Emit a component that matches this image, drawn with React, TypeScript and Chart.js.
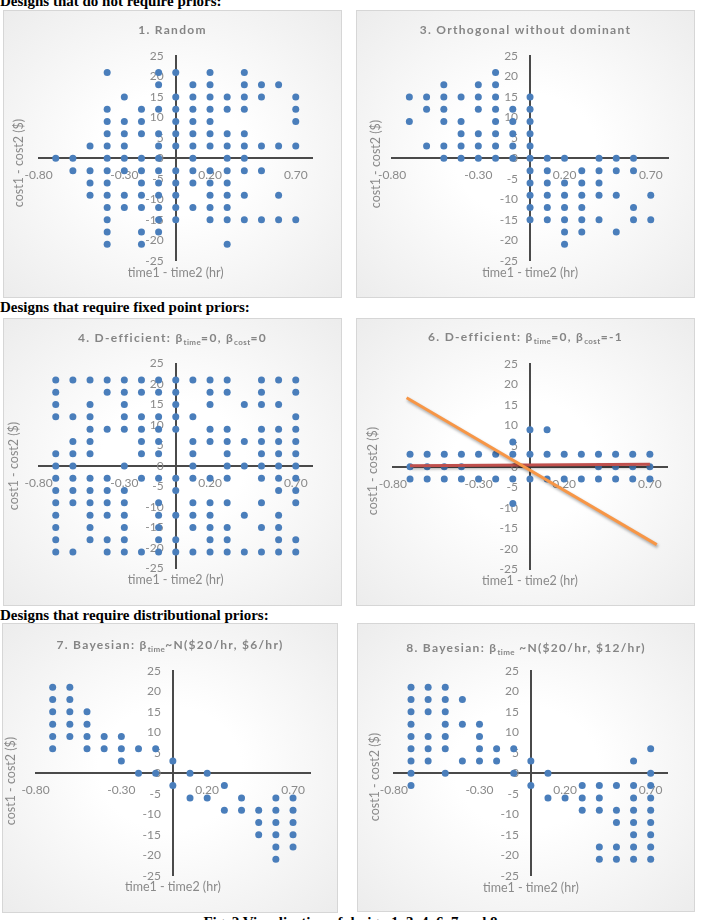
import React, { useEffect, useRef } from "react";
import { Chart, registerables } from "chart.js";

Chart.register(...registerables);

// ---------- shared axes ----------
const X_MIN = -0.8;
const X_MAX = 0.8;
const X_TICKS = [-0.8, -0.3, 0.2, 0.7];
const Y_MIN = -25;
const Y_MAX = 25;
const Y_STEP = 5;

const X_TITLE = "time1 - time2 (hr)";
const Y_TITLE = "cost1 - cost2 ($)";

// ---------- page text ----------
const SECTION_1 = "Designs that do not require priors:";
const SECTION_2 = "Designs that require fixed point priors:";
const SECTION_3 = "Designs that require distributional priors:";
const CAPTION = "Fig. 2 Visualization of design 1, 3, 4, 6, 7 and 8";

// ---------- chart titles: [text, isSubscript] ----------
type Seg = [string, boolean];
const TITLE_1: Seg[] = [["1. Random", false]];
const TITLE_3: Seg[] = [["3. Orthogonal without dominant", false]];
const TITLE_4: Seg[] = [["4. D-efficient: β", false], ["time", true], ["=0, β", false], ["cost", true], ["=0", false]];
const TITLE_6: Seg[] = [["6. D-efficient: β", false], ["time", true], ["=0, β", false], ["cost", true], ["=-1", false]];
const TITLE_7: Seg[] = [["7. Bayesian: β", false], ["time", true], ["~N($20/hr, $6/hr)", false]];
const TITLE_8: Seg[] = [["8. Bayesian: β", false], ["time", true], [" ~N($20/hr, $12/hr)", false]];

// ---------- design points: [cost1 - cost2, time1 - time2 values in that row] ----------
type Row = [number, number[]];

const DESIGN_1: Row[] = [
  [21, [-0.4, -0.1, 0, 0.2, 0.4]],
  [18, [-0.1, 0.1, 0.2, 0.4, 0.5, 0.6]],
  [15, [-0.3, 0, 0.1, 0.2, 0.3, 0.4, 0.5, 0.7]],
  [12, [-0.4, -0.2, -0.1, 0, 0.1, 0.2, 0.3, 0.4, 0.7]],
  [9, [-0.4, -0.3, -0.2, 0, 0.1, 0.2, 0.7]],
  [6, [-0.4, -0.3, -0.2, -0.1, 0, 0.1, 0.2, 0.3, 0.4]],
  [3, [-0.5, -0.4, -0.3, -0.1, 0, 0.1, 0.2, 0.3, 0.4, 0.5, 0.6, 0.7]],
  [0, [-0.7, -0.6, -0.4, -0.3, -0.2, -0.1, 0.1, 0.3, 0.4]],
  [-3, [-0.6, -0.5, -0.4, -0.3, -0.2, -0.1, 0, 0.1, 0.2, 0.3, 0.4, 0.5]],
  [-6, [-0.5, -0.4, -0.2, -0.1, 0, 0.1, 0.2, 0.3]],
  [-9, [-0.5, -0.4, -0.3, -0.2, -0.1, 0, 0.2, 0.3, 0.4, 0.6]],
  [-12, [-0.4, -0.3, -0.2, -0.1, 0, 0.1, 0.2, 0.3]],
  [-15, [-0.4, -0.1, 0, 0.2, 0.3, 0.4, 0.5, 0.6, 0.7]],
  [-18, [-0.4, -0.2, -0.1]],
  [-21, [-0.4, -0.2, 0.3]],
];

const DESIGN_3: Row[] = [
  [21, [-0.2]],
  [18, [-0.5, -0.3, -0.2]],
  [15, [-0.7, -0.6, -0.5, -0.4, -0.3, -0.2, 0]],
  [12, [-0.6, -0.5, -0.3, -0.2, -0.1, 0]],
  [9, [-0.7, -0.5, -0.4, -0.2, -0.1, 0]],
  [6, [-0.4, -0.3, -0.2, -0.1, 0]],
  [3, [-0.6, -0.5, -0.4, -0.3, -0.2, -0.1, 0]],
  [0, [-0.5, -0.4, -0.3, -0.2, -0.1, 0, 0.1, 0.2, 0.4, 0.5, 0.6]],
  [-3, [0, 0.1, 0.3, 0.4, 0.5, 0.6]],
  [-6, [0, 0.1, 0.2, 0.3, 0.4]],
  [-9, [0, 0.1, 0.2, 0.3, 0.4, 0.5, 0.7]],
  [-12, [0, 0.1, 0.2, 0.3, 0.6]],
  [-15, [0, 0.1, 0.2, 0.3, 0.4, 0.6, 0.7]],
  [-18, [0.2, 0.3, 0.5]],
  [-21, [0.2]],
];

const DESIGN_4: Row[] = [
  [21, [-0.7, -0.6, -0.5, -0.4, -0.3, -0.2, -0.1, 0, 0.1, 0.2, 0.3, 0.5, 0.6, 0.7]],
  [18, [-0.7, -0.4, -0.3, -0.2, -0.1, 0, 0.2, 0.3, 0.5, 0.7]],
  [15, [-0.7, -0.5, -0.3, 0, 0.2, 0.4, 0.5, 0.6]],
  [12, [-0.7, -0.6, -0.5, -0.3, -0.2, -0.1, 0, 0.1, 0.7]],
  [9, [-0.5, -0.4, -0.3, -0.2, -0.1, 0, 0.2, 0.3, 0.5, 0.6, 0.7]],
  [6, [-0.6, -0.5, -0.2, -0.1, 0.1, 0.2, 0.3, 0.4, 0.5, 0.6, 0.7]],
  [3, [-0.7, -0.6, -0.5, -0.2, -0.1, 0.1, 0.3, 0.5, 0.6, 0.7]],
  [0, [-0.7, -0.6, -0.3, 0.1, 0.3, 0.4, 0.5, 0.6, 0.7]],
  [-3, [-0.7, -0.6, -0.5, -0.4, -0.2, -0.1, 0, 0.1, 0.2, 0.3, 0.5, 0.6, 0.7]],
  [-6, [-0.7, -0.6, -0.5, -0.4, -0.3, 0, 0.6, 0.7]],
  [-9, [-0.7, -0.6, -0.5, -0.4, -0.3, -0.1, 0.1, 0.2, 0.3, 0.5, 0.7]],
  [-12, [-0.7, -0.5, -0.4, -0.3, -0.1, 0, 0.1, 0.2, 0.4, 0.6]],
  [-15, [-0.7, -0.5, -0.3, -0.1, 0.1, 0.2, 0.3, 0.5, 0.6]],
  [-18, [-0.7, -0.5, -0.4, -0.3, -0.1, 0, 0.2, 0.3, 0.6, 0.7]],
  [-21, [-0.7, -0.6, -0.4, -0.3, -0.2, -0.1, 0, 0.1, 0.2, 0.3, 0.4, 0.5, 0.6, 0.7]],
];

const DESIGN_6: Row[] = [
  [9, [0, 0.1]],
  [6, [-0.1]],
  [3, [-0.7, -0.6, -0.5, -0.4, -0.3, -0.2, -0.1, 0, 0.1, 0.2, 0.3, 0.4, 0.5, 0.6, 0.7]],
  [0, [-0.7, -0.6, -0.5, -0.4, 0.4, 0.5, 0.6, 0.7]],
  [-3, [-0.7, -0.6, -0.5, -0.4, -0.3, -0.2, -0.1, 0, 0.1, 0.2, 0.3, 0.4, 0.5, 0.6, 0.7]],
  [-9, [-0.1]],
];

// reference lines drawn over design 6
const DESIGN_6_STEEP: { x: number; y: number }[] = [
  { x: -0.72, y: 16.8 },
  { x: 0.74, y: -19 },
];
const DESIGN_6_FLAT: { x: number; y: number }[] = [
  { x: -0.7, y: 0.2 },
  { x: 0.7, y: 0.6 },
];

const DESIGN_7: Row[] = [
  [21, [-0.7, -0.6]],
  [18, [-0.7, -0.6]],
  [15, [-0.7, -0.6, -0.5]],
  [12, [-0.7, -0.6, -0.5]],
  [9, [-0.7, -0.6, -0.5, -0.4, -0.3]],
  [6, [-0.7, -0.5, -0.4, -0.3, -0.2, -0.1]],
  [3, [-0.3, 0]],
  [0, [-0.2, -0.1, 0.1, 0.2]],
  [-3, [0, 0.3]],
  [-6, [0.1, 0.2, 0.4, 0.6, 0.7]],
  [-9, [0.3, 0.4, 0.5, 0.6, 0.7]],
  [-12, [0.5, 0.6, 0.7]],
  [-15, [0.5, 0.6, 0.7]],
  [-18, [0.6, 0.7]],
  [-21, [0.6]],
];

const DESIGN_8: Row[] = [
  [21, [-0.7, -0.6, -0.5]],
  [18, [-0.7, -0.6, -0.5, -0.4]],
  [15, [-0.7, -0.6, -0.5]],
  [12, [-0.7, -0.5, -0.4, -0.3]],
  [9, [-0.7, -0.6, -0.5, -0.3]],
  [6, [-0.7, -0.6, -0.5, -0.3, -0.2, -0.1, 0.7]],
  [3, [-0.7, -0.6, -0.4, -0.3, -0.2, 0, 0.6]],
  [0, [-0.7, -0.5, -0.1, 0.1, 0.7]],
  [-3, [-0.7, 0, 0.3, 0.4, 0.5, 0.6, 0.7]],
  [-6, [0.1, 0.2, 0.3, 0.4, 0.6, 0.7]],
  [-9, [0.3, 0.4, 0.5, 0.6, 0.7]],
  [-12, [0.5, 0.6, 0.7]],
  [-15, [0.6, 0.7]],
  [-18, [0.4, 0.5, 0.6, 0.7]],
  [-21, [0.4, 0.5, 0.6, 0.7]],
];

// ---------- styling ----------
const DOT = "#4A7EBB";
const AXIS = "#4a4a4a";
const GREY = "#8a8a8a";
const ORANGE = "#F79646";
const RED = "#C0504D";
const SANS = 'Lato, "DejaVu Sans", sans-serif';
const SERIF = '"Liberation Serif", "Times New Roman", serif';
const TICK_SIZE = 12;

type Box = { x: number; y: number; w: number; h: number };
type Plot = { l: number; t: number; r: number; b: number };
type Layout = { box: Box; plot: Plot; titleY: number; yTitleX: number; yTitleY: number; xTitleY: number };

const rowsToPoints = (rows: Row[]) => rows.flatMap(([y, xs]) => xs.map((x) => ({ x, y })));

function drawTitle(ctx: CanvasRenderingContext2D, segs: Seg[], cx: number, cy: number) {
  const main = `bold 12px ${SANS}`;
  const sub = `bold 8px ${SANS}`;
  const c = ctx as any;
  const widths = segs.map(([t, s]) => {
    ctx.font = s ? sub : main;
    c.letterSpacing = s ? "0.4px" : "1.3px";
    return ctx.measureText(t).width;
  });
  const total = widths.reduce((a, b) => a + b, 0);
  let x = cx - total / 2;
  const base = cy + 4.3;
  ctx.fillStyle = "#858585";
  ctx.textAlign = "left";
  ctx.textBaseline = "alphabetic";
  segs.forEach(([t, s], i) => {
    ctx.font = s ? sub : main;
    c.letterSpacing = s ? "0.4px" : "1.3px";
    ctx.fillText(t, x, s ? base + 2.5 : base);
    x += widths[i];
  });
  c.letterSpacing = "0px";
}

function ScatterPanel({ layout, title, rows, lines }: { layout: Layout; title: Seg[]; rows: Row[]; lines?: boolean }) {
  const ref = useRef<HTMLCanvasElement | null>(null);

  useEffect(() => {
    const canvas = ref.current;
    if (!canvas) return;
    const { box, plot } = layout;

    const decor = {
      id: "panelDecor",
      beforeDatasetsDraw(chart: any) {
        // value labels of the vertical axis sit just left of the x = 0 line
        const ctx: CanvasRenderingContext2D = chart.ctx;
        const xs = chart.scales.x;
        const ys = chart.scales.y;
        const x0 = xs.getPixelForValue(0) - 12;
        ctx.save();
        ctx.font = `${TICK_SIZE}px ${SANS}`;
        ctx.fillStyle = GREY;
        ctx.textAlign = "right";
        ctx.textBaseline = "middle";
        ys.ticks.forEach((t: any) => {
          ctx.fillText(String(t.value), x0, ys.getPixelForValue(t.value));
        });
        ctx.restore();
      },
      beforeDatasetDraw(chart: any, args: any) {
        const ds = chart.data.datasets[args.index];
        if (ds.shadowed) {
          const ctx = chart.ctx;
          ctx.save();
          ctx.shadowColor = "rgba(0,0,0,0.35)";
          ctx.shadowBlur = 3;
          ctx.shadowOffsetX = 1;
          ctx.shadowOffsetY = 2;
        }
      },
      afterDatasetDraw(chart: any, args: any) {
        const ds = chart.data.datasets[args.index];
        if (ds.shadowed) chart.ctx.restore();
      },
      afterDraw(chart: any) {
        const ctx: CanvasRenderingContext2D = chart.ctx;
        const area = chart.chartArea;
        ctx.save();
        drawTitle(ctx, title, box.w / 2, layout.titleY);
        ctx.font = `12.5px ${SANS}`;
        ctx.fillStyle = GREY;
        ctx.textAlign = "center";
        ctx.textBaseline = "middle";
        ctx.fillText(X_TITLE, (area.left + area.right) / 2, layout.xTitleY);
        ctx.translate(layout.yTitleX, layout.yTitleY);
        ctx.rotate(-Math.PI / 2);
        ctx.fillText(Y_TITLE, 0, 0);
        ctx.restore();
      },
    };

    const datasets: any[] = [];
    if (lines) {
      datasets.push({
        data: DESIGN_6_STEEP,
        showLine: true,
        borderColor: ORANGE,
        borderWidth: 3,
        pointRadius: 0,
        shadowed: true,
      });
      datasets.push({
        data: DESIGN_6_FLAT,
        showLine: true,
        borderColor: RED,
        borderWidth: 3,
        pointRadius: 0,
        shadowed: true,
      });
    }
    datasets.push({
      data: rowsToPoints(rows),
      backgroundColor: DOT,
      borderWidth: 0,
      pointRadius: 3.5,
      pointHoverRadius: 3.5,
    });

    const tickFont = { family: SANS, size: TICK_SIZE };

    const chart = new Chart(canvas, {
      type: "scatter",
      data: { datasets },
      options: {
        responsive: false,
        animation: false,
        events: [],
        layout: {
          padding: { left: plot.l, top: plot.t, right: box.w - plot.r, bottom: box.h - plot.b },
        },
        plugins: {
          legend: { display: false },
          tooltip: { enabled: false },
          title: { display: false },
        },
        scales: {
          x: {
            type: "linear",
            min: X_MIN,
            max: X_MAX,
            position: { y: 0 } as any,
            grid: { display: false, drawTicks: false },
            border: { display: true, color: AXIS, width: 2 },
            ticks: {
              padding: 10,
              color: GREY,
              font: tickFont,
              callback: (v: any) => Number(v).toFixed(2),
            },
            afterBuildTicks: (s: any) => {
              s.ticks = X_TICKS.map((value) => ({ value }));
            },
          },
          y: {
            type: "linear",
            min: Y_MIN,
            max: Y_MAX,
            position: { x: 0 } as any,
            grid: { display: false, drawTicks: false },
            border: { display: true, color: AXIS, width: 2 },
            ticks: {
              display: false,
              stepSize: Y_STEP,
            },
          },
        },
      } as any,
      plugins: [decor],
    });
    return () => chart.destroy();
  }, [layout, title, rows, lines]);

  const { box } = layout;
  return (
    <div
      style={{
        position: "absolute",
        left: box.x,
        top: box.y,
        width: box.w,
        height: box.h,
        background: "radial-gradient(ellipse farthest-corner at 50% 50%, #ffffff 0%, #ffffff 30%, #ececec 100%)",
        boxShadow: "inset 0 0 0 1px #d6d6d6",
      }}
    >
      <canvas ref={ref} width={box.w} height={box.h} style={{ position: "absolute", left: 0, top: 0 }} />
    </div>
  );
}

const L1: Layout = { box: { x: 3, y: 10, w: 339, h: 288 }, plot: { l: 35.6, t: 46, r: 309.9, b: 250.7 }, titleY: 20, yTitleX: 16, yTitleY: 153, xTitleY: 263 };
const L3: Layout = { box: { x: 356, y: 10, w: 339, h: 288 }, plot: { l: 36.1, t: 46, r: 312, b: 250.7 }, titleY: 20, yTitleX: 20, yTitleY: 154, xTitleY: 263 };
const L4: Layout = { box: { x: 3, y: 318, w: 339, h: 288 }, plot: { l: 35.6, t: 45.6, r: 309.9, b: 250.4 }, titleY: 20, yTitleX: 11, yTitleY: 148, xTitleY: 262 };
const L6: Layout = { box: { x: 356, y: 318, w: 339, h: 288 }, plot: { l: 36.9, t: 46, r: 311, b: 251.3 }, titleY: 19, yTitleX: 17, yTitleY: 153, xTitleY: 263 };
const L7: Layout = { box: { x: 2, y: 623, w: 336, h: 290 }, plot: { l: 33.5, t: 47.9, r: 308.2, b: 252.7 }, titleY: 22, yTitleX: 9, yTitleY: 158, xTitleY: 264 };
const L8: Layout = { box: { x: 357, y: 623, w: 338, h: 289 }, plot: { l: 36.9, t: 47.9, r: 310.8, b: 252.7 }, titleY: 25, yTitleX: 18, yTitleY: 154, xTitleY: 265 };

const headingStyle = (top: number): React.CSSProperties => ({
  position: "absolute",
  left: 0,
  top,
  font: `bold 15px ${SERIF}`,
  lineHeight: "15px",
  whiteSpace: "nowrap",
  color: "#000",
});

export default function App() {
  return (
    <div style={{ position: "absolute", left: 0, top: 0, width: 701, height: 920, overflow: "hidden", background: "#fff" }}>
      <div style={headingStyle(-6.5)}>{SECTION_1}</div>
      <ScatterPanel layout={L1} title={TITLE_1} rows={DESIGN_1} />
      <ScatterPanel layout={L3} title={TITLE_3} rows={DESIGN_3} />
      <div style={headingStyle(300)}>{SECTION_2}</div>
      <ScatterPanel layout={L4} title={TITLE_4} rows={DESIGN_4} />
      <ScatterPanel layout={L6} title={TITLE_6} rows={DESIGN_6} lines />
      <div style={headingStyle(608)}>{SECTION_3}</div>
      <ScatterPanel layout={L7} title={TITLE_7} rows={DESIGN_7} />
      <ScatterPanel layout={L8} title={TITLE_8} rows={DESIGN_8} />
      <div style={{ ...headingStyle(915), width: 701, textAlign: "center" }}>{CAPTION}</div>
    </div>
  );
}
